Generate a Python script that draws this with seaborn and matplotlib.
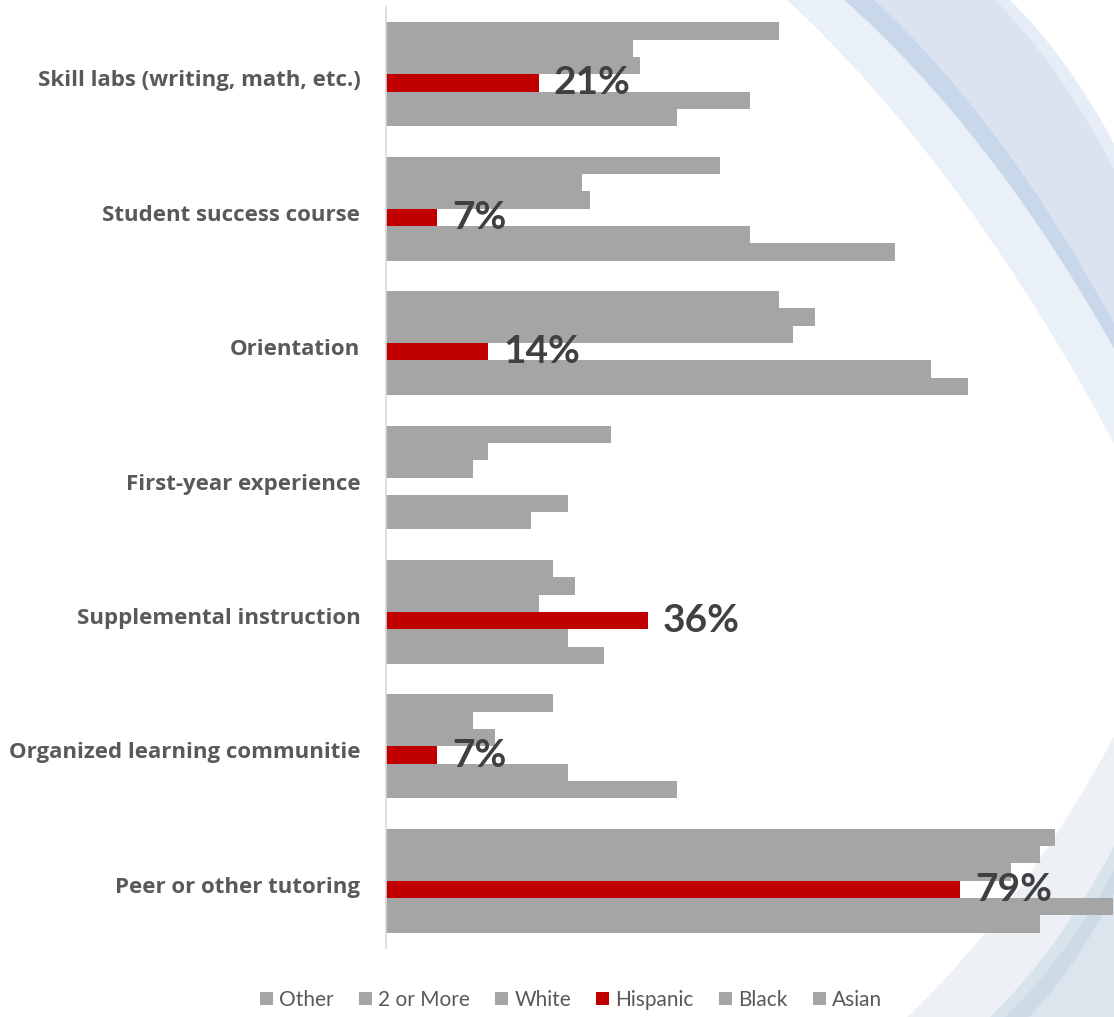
import numpy as np
import pandas as pd
import seaborn as sns
import matplotlib.pyplot as plt
import matplotlib.transforms as mtransforms
from matplotlib.path import Path
from matplotlib.patches import PathPatch, Patch

# Share of students using each support program, by race/ethnicity (%)
programs = [
    "Skill labs (writing, math, etc.)",
    "Student success course",
    "Orientation",
    "First-year experience",
    "Supplemental instruction",
    "Organized learning communitie",
    "Peer or other tutoring",
]
groups = ["Other", "2 or More", "White", "Hispanic", "Black", "Asian"]

other = [54, 46, 54, 31, 23, 23, 92]
two_or_more = [34, 27, 59, 14, 26, 12, 90]
white = [35, 28, 56, 12, 21, 15, 86]
hispanic = [21, 7, 14, 0, 36, 7, 79]
black = [50, 50, 75, 25, 25, 25, 100]
asian = [40, 70, 80, 20, 30, 40, 90]

series = {
    "Other": other,
    "2 or More": two_or_more,
    "White": white,
    "Hispanic": hispanic,
    "Black": black,
    "Asian": asian,
}
df = pd.DataFrame(
    [(p, g, v) for g, vals in series.items() for p, v in zip(programs, vals)],
    columns=["program", "group", "pct"],
)

GRAY = "#a5a5a5"
RED = "#c00000"
palette = {g: (RED if g == "Hispanic" else GRAY) for g in groups}

sns.set_style("white")
plt.rcParams["font.family"] = ["Lato", "DejaVu Sans"]

W, H = 1114, 1017
fig = plt.figure(figsize=(W / 100, H / 100), dpi=100)
fig.patch.set_facecolor("white")


def fxy(x, y):
    return (x / W, 1 - y / H)


def band_path(verts):
    codes = [Path.MOVETO, Path.CURVE3, Path.CURVE3, Path.LINETO, Path.CLOSEPOLY]
    return Path(verts, codes)


def top_band(x0, y1, color, k=0.55, c=0.37):
    cx, cy = x0 + k * (W - x0), c * y1
    verts = [fxy(x0, -2), fxy(cx, cy), fxy(W + 2, y1), fxy(W + 2, -2), fxy(x0, -2)]
    fig.patches.append(PathPatch(band_path(verts), facecolor=color, edgecolor="none",
                                 transform=fig.transFigure, zorder=-10))


def bottom_band(x0, y1, color, k=0.55, c=0.37):
    cx, cy = x0 + k * (W - x0), H - c * (H - y1)
    verts = [fxy(x0, H + 2), fxy(cx, cy), fxy(W + 2, y1), fxy(W + 2, H + 2), fxy(x0, H + 2)]
    fig.patches.append(PathPatch(band_path(verts), facecolor=color, edgecolor="none",
                                 transform=fig.transFigure, zorder=-10))


# decorative swoosh in the background
top_band(785, 447, "#eaf0f7")
top_band(842, 352, "#c9d7ea")
top_band(872, 327, "#dbe3f0")
top_band(993, 173, "#e7edf6")
top_band(1008, 147, "#ffffff")
bottom_band(905, 733, "#edf1f5")
bottom_band(988, 843, "#d9e3ec")
bottom_band(1003, 867, "#cddbe6")
bottom_band(1027, 890, "#dce4ee")

ax = fig.add_axes([386 / W, 1 - 948 / H, 727 / W, 941 / H])
ax.set_facecolor("none")

sns.barplot(
    data=df, y="program", x="pct", hue="group",
    order=programs, hue_order=groups, palette=palette,
    width=0.773, orient="h", saturation=1, linewidth=0,
    errorbar=None, legend=False, ax=ax,
)

ax.set_xlim(0, 100)
ax.set_xlabel("")
ax.set_ylabel("")
ax.set_xticks([])
for s in ["top", "right", "bottom"]:
    ax.spines[s].set_visible(False)
ax.spines["left"].set_color("#d9d9d9")
ax.spines["left"].set_linewidth(1.2)
ax.tick_params(axis="y", length=0, pad=18.5, labelcolor="#595959")
shift = mtransforms.ScaledTranslation(0, -4 / 100, fig.dpi_scale_trans)
for lbl in ax.get_yticklabels():
    lbl.set_fontweight("bold")
    lbl.set_family(["Open Sans", "DejaVu Sans"])
    lbl.set_fontsize(16)
    lbl.set_transform(lbl.get_transform() + shift)

# value labels on the Hispanic bars
hisp_bars = ax.containers[groups.index("Hispanic")]
ax.bar_label(
    hisp_bars,
    labels=[f"{v}%" if v > 0 else "" for v in hispanic],
    padding=11, fontsize=28, fontweight="bold", color="#404040",
)

handles = [Patch(facecolor=palette[g], edgecolor="none") for g in groups]
fig.legend(
    handles, groups, loc="center", bbox_to_anchor=(571 / W, 1 - 1000 / H),
    ncol=6, frameon=False, fontsize=15, labelcolor="#595959",
    handlelength=0.63, handleheight=0.63, handletextpad=0.3, columnspacing=1.2,
)

fig.savefig("out.png", dpi=100, facecolor="white")
